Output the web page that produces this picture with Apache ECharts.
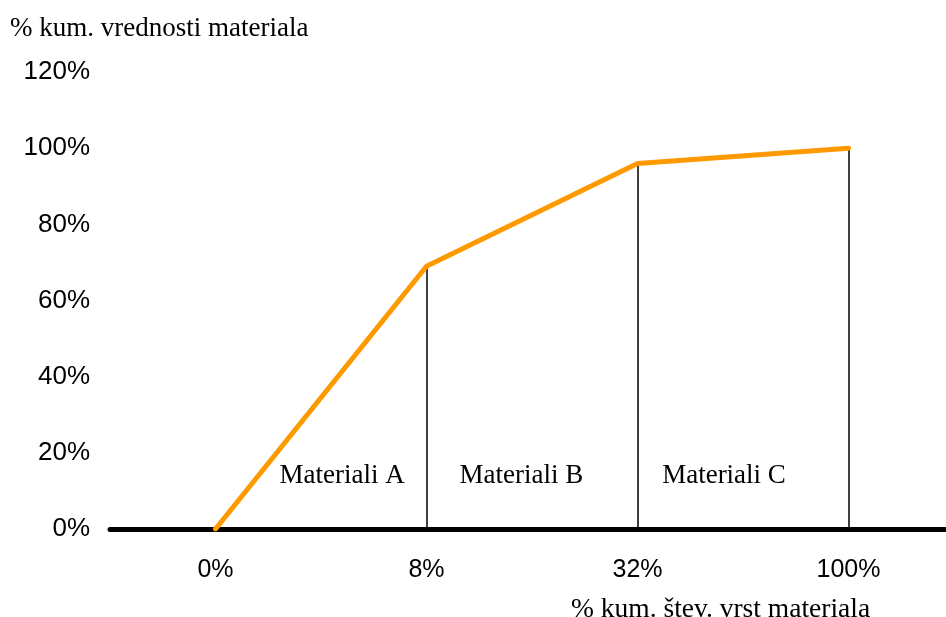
<!DOCTYPE html>
<html>
<head>
<meta charset="utf-8">
<script src="https://cdn.jsdelivr.net/npm/echarts@6/dist/echarts.min.js"></script>
<style>
  html, body { margin: 0; padding: 0; background: #fff; overflow: hidden; }
  #wrap { width: 946px; height: 617px; overflow: hidden; }
  /* the plot runs a little past the right edge, so the canvas is wider than the view */
  #chart { width: 956px; height: 617px; }
</style>
</head>
<body>
<div id="wrap"><div id="chart"></div></div>
<script>
// Cumulative share of item count (categories) vs cumulative share of value
const categories = ['0%', '8%', '32%', '100%'];
const cumValue = [0, 0.69, 0.96, 1.0];
const yTicks = [0, 0.2, 0.4, 0.6, 0.8, 1.0, 1.2];

// Group labels and where they sit (x in category-index units, y in value units)
const groupNames = ['Materiali A', 'Materiali B', 'Materiali C'];
const groupLabelX = [0.6, 1.45, 2.41];
const groupLabelY = [0.14, 0.14, 0.14];

const serif = '"Liberation Serif", "Times New Roman", serif';
const sans = '"Liberation Sans", Arial, sans-serif';

const chart = echarts.init(document.getElementById('chart'), null, { renderer: 'canvas' });

// Vertical drop lines from each breakpoint down to the x axis
const dropLines = categories.slice(1).map((c, i) => [
  { coord: [c, 0] },
  { coord: [c, cumValue[i + 1]] }
]);

chart.setOption({
  animation: false,
  backgroundColor: '#ffffff',
  title: [
    {
      text: '% kum. vrednosti materiala',
      left: 5, top: 10,
      textStyle: { fontFamily: serif, fontSize: 27, fontWeight: 'normal', color: '#000' }
    },
    {
      text: '% kum. štev. vrst materiala',
      left: 566, top: 591,
      textStyle: { fontFamily: serif, fontSize: 27.5, fontWeight: 'normal', color: '#000' }
    }
  ],
  grid: { left: 110, right: 2, top: 72, bottom: 88, containLabel: false },
  xAxis: [
    {
      type: 'category',
      data: categories,
      boundaryGap: true,
      axisLine: { show: true, lineStyle: { color: '#000', width: 5, cap: 'round' } },
      axisTick: { show: false },
      axisLabel: { fontFamily: sans, fontSize: 25, color: '#000', margin: 29 },
      splitLine: { show: false }
    },
    {
      type: 'value',
      min: -0.5, max: 3.5,
      show: false
    }
  ],
  yAxis: {
    type: 'value',
    min: yTicks[0],
    max: yTicks[yTicks.length - 1],
    interval: 0.2,
    axisLine: { show: false },
    axisTick: { show: false },
    splitLine: { show: false },
    axisLabel: {
      fontFamily: sans, fontSize: 26, color: '#000', margin: 20,
      formatter: v => Math.round(v * 100) + '%'
    }
  },
  series: [
    {
      type: 'line',
      xAxisIndex: 0,
      data: cumValue,
      symbol: 'none',
      lineStyle: { color: '#FF9900', width: 5, cap: 'round', join: 'round' },
      z: 3,
      markLine: {
        silent: true,
        symbol: ['none', 'none'],
        label: { show: false },
        lineStyle: { color: '#000', width: 1.5, type: 'solid' },
        data: dropLines,
        z: 2
      }
    },
    {
      type: 'scatter',
      xAxisIndex: 1,
      symbolSize: 0,
      silent: true,
      itemStyle: { opacity: 1 },
      data: groupNames.map((n, i) => ({ value: [groupLabelX[i], groupLabelY[i]], name: n })),
      label: {
        show: true,
        position: [0, 0],
        align: 'center',
        verticalAlign: 'middle',
        formatter: p => p.name,
        fontFamily: serif, fontSize: 27, color: '#000',
        textBorderWidth: 0
      },
      z: 4
    }
  ]
});
</script>
</body>
</html>
